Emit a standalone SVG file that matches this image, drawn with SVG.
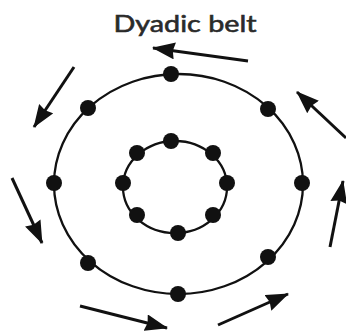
<svg xmlns="http://www.w3.org/2000/svg" width="346" height="331" viewBox="0 0 346 331">
<style>
.ring{fill:none;stroke:#111;stroke-width:2.3}
.dot{fill:#111}
.arrow{stroke:#111;stroke-width:3;fill:none;marker-end:url(#head)}
.title{font-family:Lato,"Open Sans","DejaVu Sans",sans-serif;font-size:24px;font-weight:400;fill:#2a2a2a;stroke:#2a2a2a;stroke-width:0.6}
</style>
<defs>
<marker id="head" markerUnits="userSpaceOnUse" markerWidth="24" markerHeight="18" refX="22" refY="8.5" orient="auto">
<path d="M0,0 L23,8.5 L0,17 L2,8.5 z" fill="#111"/>
</marker>
</defs>
<rect width="346" height="331" fill="#fff"/>
<text class="title" x="185" y="32" text-anchor="middle" textLength="143" lengthAdjust="spacingAndGlyphs">Dyadic belt</text>
<g id="outer-belt">
<ellipse class="ring" cx="178.5" cy="184" rx="124.5" ry="110"/>
<circle class="dot" cx="171" cy="74" r="8"/>
<circle class="dot" cx="88" cy="108" r="8"/>
<circle class="dot" cx="268" cy="109" r="8"/>
<circle class="dot" cx="54" cy="183" r="8"/>
<circle class="dot" cx="302" cy="183" r="8"/>
<circle class="dot" cx="88" cy="263" r="8"/>
<circle class="dot" cx="268" cy="257" r="8"/>
<circle class="dot" cx="178" cy="294" r="8"/>
</g>
<g id="inner-belt">
<ellipse class="ring" cx="175" cy="187" rx="52" ry="46"/>
<circle class="dot" cx="171" cy="141" r="8"/>
<circle class="dot" cx="137" cy="153" r="8"/>
<circle class="dot" cx="213" cy="153" r="8"/>
<circle class="dot" cx="123" cy="183" r="8"/>
<circle class="dot" cx="227" cy="183" r="8"/>
<circle class="dot" cx="137" cy="215" r="8"/>
<circle class="dot" cx="213" cy="215" r="8"/>
<circle class="dot" cx="178" cy="233" r="8"/>
</g>
<g id="connectors">
<line class="arrow" x1="248" y1="61" x2="153" y2="48"/>
<line class="arrow" x1="74" y1="67" x2="34" y2="127"/>
<line class="arrow" x1="346" y1="138" x2="297" y2="92"/>
<line class="arrow" x1="12" y1="178" x2="42" y2="243"/>
<line class="arrow" x1="330" y1="247" x2="343" y2="181"/>
<line class="arrow" x1="80" y1="306" x2="167" y2="328"/>
<line class="arrow" x1="218" y1="325" x2="288" y2="294"/>
</g>
</svg>
